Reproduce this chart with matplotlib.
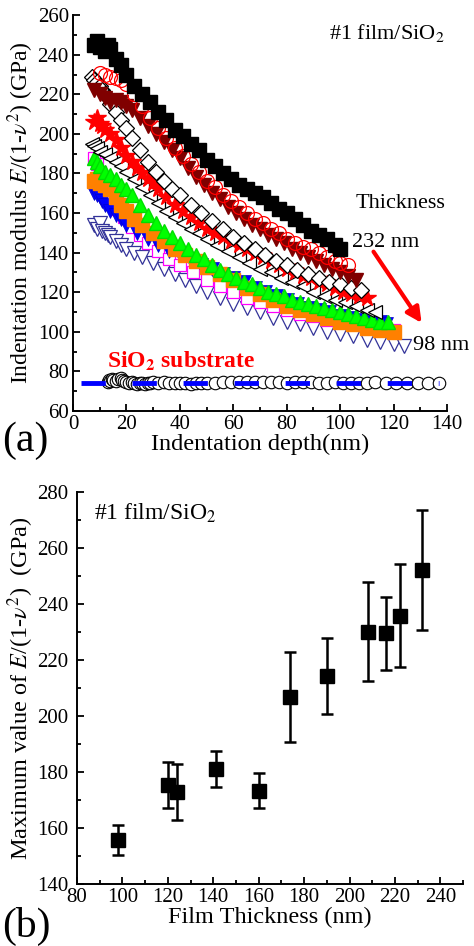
# Indentation modulus vs depth (a) and max modulus vs film thickness (b)
import matplotlib
matplotlib.use("Agg")
import matplotlib.pyplot as plt
from matplotlib.ticker import MultipleLocator

plt.rcParams['font.family'] = ['Liberation Serif', 'DejaVu Serif']
plt.rcParams['mathtext.fontset'] = 'stix'

# -----------------------------------------------------------
# DATOS PANEL (a): profundidad (nm) y modulo (GPa) por espesor
# -----------------------------------------------------------

d_232 = [8, 9, 10, 12, 13, 14, 16, 18, 20, 23, 26, 29, 32, 35, 38, 41, 44, 47, 50, 53, 56, 59, 62,
         65, 68, 71, 74, 77, 80, 83, 86, 89, 92, 95, 98, 100]
e_232 = [245, 247, 244, 242, 245, 243, 238, 235, 230, 224, 220, 216, 211, 207, 202, 199, 195, 192,
         187, 184, 180, 177, 174, 172, 170, 168, 165, 162, 160, 157, 154, 151, 149, 147, 144, 142]

d_222 = [10, 12, 14, 16, 18, 20, 23, 26, 29, 32, 35, 38, 41, 44, 47, 50, 53, 56, 59, 62, 65, 68,
         71, 74, 77, 80, 83, 86, 89, 92, 95, 98, 100, 103]
e_222 = [231, 230, 229, 228, 227, 225, 220, 214, 208, 203, 198, 193, 189, 185, 181, 176, 173, 169,
         166, 163, 160, 157, 155, 152, 150, 147, 145, 143, 142, 140, 138, 136, 135, 134]

d_216 = [8, 10, 12, 14, 16, 18, 20, 22, 25, 28, 31, 34, 37, 40, 43, 46, 49, 52, 55, 58, 61, 64,
         67, 70, 73, 76, 79, 82, 85, 88, 91, 94, 97, 100, 103, 106]
e_216 = [222, 220, 218, 216, 217, 216, 214, 212, 208, 204, 200, 196, 192, 188, 183, 178, 174, 170,
         167, 163, 160, 157, 154, 152, 149, 147, 145, 142, 140, 138, 136, 134, 132, 130, 128, 126]

d_208 = [7, 8, 9, 10, 11, 12, 13, 14, 16, 18, 20, 22, 25, 28, 31, 34, 37, 40, 44, 48, 52, 56, 60,
         64, 68, 72, 76, 80, 84, 88, 92, 96, 100, 104, 108]
e_208 = [229, 227, 226, 224, 222, 220, 218, 215, 211, 207, 203, 198, 192, 186, 181, 176, 172, 169,
         164, 160, 156, 152, 148, 145, 142, 139, 136, 134, 131, 129, 127, 125, 124, 122, 121]

d_190 = [8, 9, 10, 11, 12, 14, 16, 18, 20, 22, 24, 26, 28, 30, 32, 35, 38, 41, 44, 47, 50, 53, 56,
         59, 62, 65, 68, 71, 74, 77, 80, 83, 86, 89, 92, 95, 98, 101, 104, 107, 110]
e_190 = [206, 208, 205, 204, 202, 200, 197, 193, 189, 186, 183, 180, 177, 175, 172, 168, 164, 161,
         158, 155, 152, 150, 148, 146, 144, 142, 140, 138, 136, 134, 132, 130, 128, 127, 125, 124,
         122, 120, 119, 118, 117]

d_174 = [7, 8, 9, 10, 12, 14, 16, 18, 20, 23, 26, 29, 32, 35, 38, 41, 44, 47, 50, 54, 58, 62, 66,
         70, 74, 78, 82, 86, 90, 94, 98, 102, 106, 110, 113]
e_174 = [195, 194, 193, 191, 190, 188, 186, 184, 181, 177, 173, 169, 165, 161, 158, 155, 152, 150,
         147, 144, 141, 138, 135, 132, 130, 127, 125, 123, 120, 118, 116, 115, 113, 111, 110]

d_160 = [8, 9, 10, 12, 14, 16, 18, 20, 22, 25, 28, 31, 34, 37, 40, 43, 46, 49, 52, 55, 58, 61, 64,
         67, 70, 73, 76, 79, 82, 85, 88, 91, 94, 97, 100, 103, 106, 109, 112, 115, 118]
e_160 = [188, 186, 184, 181, 179, 177, 174, 172, 169, 164, 159, 155, 151, 148, 145, 142, 139, 137,
         134, 131, 129, 127, 125, 124, 122, 120, 119, 118, 116, 115, 114, 113, 112, 111, 110, 109,
         108, 107, 106, 105, 105]

d_141 = [8, 9, 10, 11, 12, 14, 16, 18, 20, 24, 28, 32, 36, 40, 44, 48, 52, 56, 60, 64, 68, 72, 76,
         80, 84, 88, 92, 96, 100, 104, 108, 112, 115, 117]
e_141 = [170, 169, 168, 166, 164, 161, 159, 157, 154, 150, 147, 144, 141, 139, 136, 134, 132, 129,
         127, 125, 122, 120, 118, 116, 114, 112, 111, 110, 108, 107, 106, 105, 105, 104]

d_124 = [8, 9, 10, 11, 12, 14, 16, 19, 22, 25, 28, 32, 36, 40, 45, 50, 55, 60, 65, 70, 75, 80, 85,
         90, 95, 100, 105, 110, 115, 120]
e_124 = [188, 185, 181, 176, 172, 166, 162, 158, 153, 149, 145, 141, 137, 134, 130, 126, 123, 120,
         117, 115, 113, 111, 109, 108, 106, 105, 104, 103, 102, 101]

d_120 = [8, 9, 10, 12, 14, 16, 18, 20, 23, 26, 30, 34, 38, 42, 46, 50, 55, 60, 65, 70, 75, 80, 85,
         90, 95, 100, 105, 110, 115, 120]
e_120 = [176, 177, 175, 174, 172, 168, 164, 161, 157, 154, 150, 146, 142, 139, 136, 133, 129, 126,
         122, 119, 116, 113, 111, 109, 107, 105, 104, 102, 101, 100]

d_98 = [8, 9, 10, 11, 12, 13, 14, 16, 18, 20, 23, 26, 30, 34, 38, 42, 46, 50, 55, 60, 65, 70, 75,
        80, 85, 90, 95, 100, 105, 110, 115, 120, 124]
e_98 = [154, 152, 155, 151, 150, 149, 148, 146, 144, 142, 140, 138, 135, 132, 129, 126, 123, 120,
        117, 114, 112, 110, 107, 105, 104, 102, 100, 99, 98, 96, 95, 94, 93]

# Sustrato SiO2
d_sub = [13, 13.5, 14, 14.5, 15, 16, 17, 18, 18.5, 19, 20, 21, 22, 23, 24, 25, 26, 27, 28, 29, 30,
         32, 34, 36, 38, 40, 42, 44, 46, 48, 50, 53, 56, 59, 62, 65, 68, 71, 74, 77, 80, 83, 86,
         89, 92, 95, 98, 101, 104, 107, 110, 113, 117, 121, 125, 129, 133, 137]
e_sub = [74.5, 75.5, 75, 76, 75.5, 75, 76, 76.5, 75.5, 75, 74.5, 74, 74.5, 74, 73.5, 74, 74, 73.5,
         74, 74, 74.5, 74, 74.5, 74, 74, 74, 74, 73.5, 74, 74, 74, 74, 74.5, 74.5, 74.5, 74.5,
         74.5, 74.5, 74.5, 74.5, 74, 74.5, 74.5, 74.5, 74, 74, 74.5, 74, 74, 74, 74, 74.5, 74,
         74, 74, 74, 74, 74]
d_linea = [3, 137]
e_linea = [74.2, 74.2]

# -----------------------------------------------------------
# DATOS PANEL (b)
# -----------------------------------------------------------

espesor = [98, 120, 124, 141, 160, 174, 190, 208, 216, 222, 232]
e_max = [155.7, 175.4, 173.0, 181.1, 173.3, 206.7, 214.3, 230.1, 229.5, 235.8, 252.1]
e_err = [5.3, 8.2, 10.0, 6.5, 6.3, 16.0, 13.5, 17.7, 13.0, 18.4, 21.4]

# -----------------------------------------------------------
# FIGURA
# -----------------------------------------------------------

fig = plt.figure(figsize=(4.74, 9.46), dpi=100)
ax1 = fig.add_axes([0.154, 0.5655, 0.789, 0.4185])
ax2 = fig.add_axes([0.1624, 0.0655, 0.8146, 0.4145])


def estilo(ax):
    for lado in ['top', 'right']:
        ax.spines[lado].set_visible(False)
    for lado in ['left', 'bottom']:
        ax.spines[lado].set_linewidth(1.4)
    ax.tick_params(which='both', direction='in', width=1.3, labelsize=15, pad=3)
    ax.tick_params(which='major', length=5)
    ax.tick_params(which='minor', length=3)
    ax.xaxis.set_minor_locator(MultipleLocator(10))
    ax.yaxis.set_minor_locator(MultipleLocator(10))
    ax.xaxis.set_major_locator(MultipleLocator(20))
    ax.yaxis.set_major_locator(MultipleLocator(20))


# Panel (a)
ax1.plot(d_sub, e_sub, 'o', ms=9, mfc='white', mec='black', mew=0.8, zorder=3)
ax1.plot(d_linea, e_linea, color='#0000FF', lw=3.5, dashes=(5, 5.5), zorder=4)

ax1.plot(d_98, e_98, 'v', ms=10, mfc='white', mec='#333399', mew=0.9)
ax1.plot(d_124, e_124, 's', ms=8, mfc='white', mec='#FF00FF', mew=0.9)
ax1.plot(d_141, e_141, 'v', ms=9.5, color='#0000FF', mec='#0000CC', mew=0.5)
ax1.plot(d_120, e_120, 's', ms=9.5, color='#FF8000', mec='#FF8000')
ax1.plot(d_160, e_160, '^', ms=9.5, color='#00FF00', mec='#00DD00')
ax1.plot(d_174, e_174, '<', ms=10.5, mfc='white', mec='black', mew=0.9)
ax1.plot(d_190, e_190, '*', ms=13, color='#FF0000', mec='#FF0000')
ax1.plot(d_208, e_208, 'D', ms=8, mfc='white', mec='black', mew=0.9)
ax1.plot(d_216, e_216, 'v', ms=10.5, color='#800000', mec='#800000')
ax1.plot(d_222, e_222, 'o', ms=10, mfc='none', mec='#FF0000', mew=0.9)
ax1.plot(d_232, e_232, 's', ms=9.5, color='black')

ax1.set_xlim(0, 140)
ax1.set_ylim(60, 260)
estilo(ax1)
ax1.set_xlabel('Indentation depth(nm)', fontsize=17.5, labelpad=0)
ax1.set_ylabel(r'Indentation modulus $E$/(1-$\nu^2$) (GPa)', fontsize=17, labelpad=1)

ax1.text(0.84, 0.955, r'#1 film/SiO$_2$', transform=ax1.transAxes, fontsize=16,
         ha='center', va='center')
ax1.text(0.995, 0.525, 'Thickness', transform=ax1.transAxes, fontsize=16,
         ha='right', va='center')
ax1.text(0.925, 0.425, '232 nm', transform=ax1.transAxes, fontsize=16,
         ha='right', va='center')
ax1.text(1.06, 0.166, '98 nm', transform=ax1.transAxes, fontsize=16,
         ha='right', va='center')
ax1.text(0.092, 0.125, r'SiO$_\mathbf{2}$ substrate', transform=ax1.transAxes, fontsize=17,
         fontweight='bold', color='#FF0000', ha='left', va='center')
ax1.annotate('', xy=(130.5, 104.5), xytext=(112.5, 140.5),
             arrowprops=dict(arrowstyle='-|>,head_length=0.9,head_width=0.45',
                             color='#FF0000', lw=3, shrinkA=0, shrinkB=0))
fig.text(0.005, 0.534, '(a)', fontsize=30, ha='left', va='center')

# Panel (b)
ax2.errorbar(espesor, e_max, yerr=e_err, fmt='s', ms=10, color='black',
             ecolor='black', elinewidth=1.8, capsize=4, capthick=1.8)
ax2.set_xlim(80, 250)
ax2.set_ylim(140, 280)
estilo(ax2)
ax2.tick_params(axis='y', which='both', pad=6)
ax2.set_xlabel('Film Thickness (nm)', fontsize=17.5, labelpad=0)
ax2.set_ylabel(r'Maximum value of $E$/(1-$\nu^2$)  (GPa)', fontsize=17.5, labelpad=1)
ax2.text(0.045, 0.945, r'#1 film/SiO$_2$', transform=ax2.transAxes, fontsize=17,
         ha='left', va='center')
fig.text(0.005, 0.021, '(b)', fontsize=30, ha='left', va='center')

fig.savefig('out.png', dpi=100)
